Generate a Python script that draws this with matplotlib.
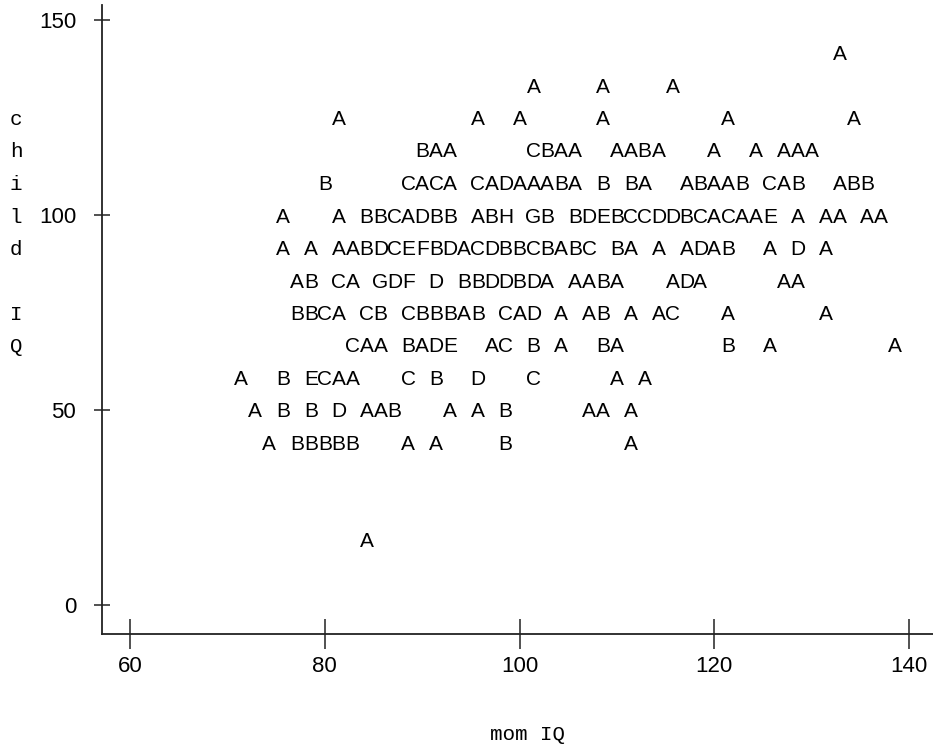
import matplotlib.pyplot as plt
from matplotlib.transforms import blended_transform_factory

plt.rcParams['font.family'] = ['Liberation Sans', 'DejaVu Sans']
plt.rcParams['font.size'] = 15
TITLE_FONT = ['Liberation Mono', 'DejaVu Sans Mono']

# line-printer scatter of child IQ against mom IQ
# each row is one print line; each character is one print column.
# A = 1 obs, B = 2 obs, ... ; '.' = empty column
child_iq_rows = [141.67, 133.33, 125.0, 116.67, 108.33, 100.0, 91.67,
                 83.33, 75.0, 66.67, 58.33, 50.0, 41.67, 16.67]
row_symbols = [
    "...................................................A",
    ".............................A....A....A",
    "...............A.........A..A.....A........A........A",
    ".....................BAA.....CBAA..AABA...A..A.AAA",
    "..............B.....CACA.CADAAABA.B.BA..ABAAB.CAB..ABB",
    "...........A...A.BBCADBB.ABH.GB.BDEBCCDDBCACAAE.A.AA.AA",
    "...........A.A.AABDCEFBDACDBBCBABC.BA.A.ADAB..A.D.A",
    "............AB.CA.GDF.D.BBDDBDA.AABA...ADA.....AA",
    "............BBCA.CB.CBBBAB.CAD.A.AB.A.AC...A......A",
    "................CAA.BADE..AC.B.A..BA.......B..A........A",
    "........A..B.ECAA...C.B..D...C.....A.A",
    ".........A.B.B.D.AAB...A.A.B.....AA.A",
    "..........A.BBBBB...A.A....B........A",
    ".................A",
]
mom_iq_first = 60.0      # mom IQ of print column 0
mom_iq_step = 20 / 14    # mom IQ per print column

x_ticks = [60, 80, 100, 120, 140]
y_ticks = [0, 50, 100, 150]
x_title = 'mom IQ'
y_title = 'child IQ'

fig = plt.figure(figsize=(9.33, 7.46), dpi=100)
ax = fig.add_axes([102 / 933, 112 / 746, 831 / 933, 629 / 746])
ax.set_xlim(57.125, 142.46)
ax.set_ylim(-7.44, 153.85)

for y, line in zip(child_iq_rows, row_symbols):
    for k, ch in enumerate(line):
        if ch != '.':
            ax.text(mom_iq_first + k * mom_iq_step, y, ch,
                    ha='center', va='center_baseline', color='black')

for side in ['top', 'right']:
    ax.spines[side].set_visible(False)
for side in ['left', 'bottom']:
    ax.spines[side].set_linewidth(1.3)
    ax.spines[side].set_color('#222222')

ax.set_xticks(x_ticks)
ax.set_yticks(y_ticks)
ax.tick_params(axis='x', direction='inout', length=22, width=1.1,
               color='#222222', pad=5, labelsize=16)
ax.tick_params(axis='y', direction='inout', length=11, width=1.1,
               color='#222222', pad=13, labelsize=16)

# x title under the axis, y title stacked one letter per print line
fig.text(527 / 933, 1 - 735 / 746, x_title, ha='center', va='center',
         family=TITLE_FONT)
trans = blended_transform_factory(fig.transFigure, ax.transData)
for ch, y in zip(y_title, child_iq_rows[2:]):
    if ch != ' ':
        ax.text(16 / 933, y, ch, transform=trans, ha='center',
                va='center_baseline', family=TITLE_FONT)

fig.savefig('out.png', dpi=100)
